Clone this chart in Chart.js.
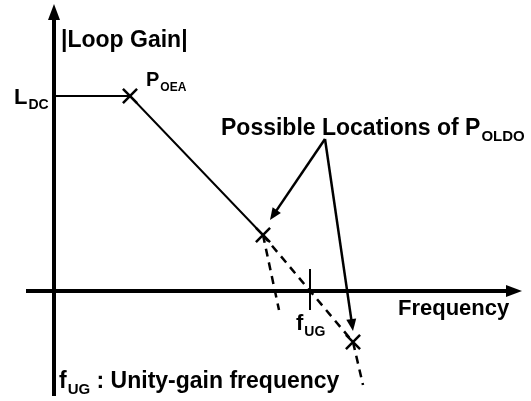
<!DOCTYPE html>
<html>
<head>
<meta charset="utf-8">
<title>Loop Gain</title>
<script src="https://cdn.jsdelivr.net/npm/chart.js@4.4.1/dist/chart.umd.min.js"></script>
<style>
  body { margin: 0; background: #fff; }
  canvas { display: block; }
</style>
</head>
<body>
<canvas id="bode" width="531" height="401"></canvas>
<script>
// asymptotic loop gain (frequency, magnitude), origin at the axes crossing
const gainFreq = [0, 1.52, 4.18];
const gainMag = [3.9, 3.9, 1.12];
// two possible roll-offs after the output pole
const steepFreq = [4.18, 4.5];
const steepMag = [1.12, -0.38];
const slowFreq = [4.18, 5.98, 6.18];
const slowMag = [1.12, -1.02, -1.88];
// pole markers
const poleFreq = [1.52, 4.18, 5.98];
const poleMag = [3.9, 1.12, -1.02];
// unity-gain crossing
const fUG = 5.12;
// callout arrows from the "Possible Locations" label
const calloutFrom = [5.42, 3.04];
const calloutTipFreq = [4.32, 5.98];
const calloutTipMag = [1.42, -0.8];

const FONT = '"Liberation Sans", Arial, sans-serif';

function pts(xs, ys) {
  return xs.map((x, i) => ({ x: x, y: ys[i] }));
}

function lineSet(data, dash, width) {
  return {
    data: data,
    showLine: true,
    borderColor: '#000',
    borderWidth: width,
    borderDash: dash,
    pointRadius: 0,
    fill: false
  };
}

function arrowHead(ctx, x0, y0, x1, y1, len, half) {
  const a = Math.atan2(y1 - y0, x1 - x0);
  ctx.beginPath();
  ctx.moveTo(x1, y1);
  ctx.lineTo(x1 - len * Math.cos(a) + half * Math.sin(a), y1 - len * Math.sin(a) - half * Math.cos(a));
  ctx.lineTo(x1 - len * Math.cos(a) - half * Math.sin(a), y1 - len * Math.sin(a) + half * Math.cos(a));
  ctx.closePath();
  ctx.fill();
}

// text with a subscript, left aligned on baseline y
function subText(ctx, x, y, main, sub, size, subSize, drop) {
  ctx.font = 'bold ' + size + 'px ' + FONT;
  ctx.fillText(main, x, y);
  const w = ctx.measureText(main).width;
  ctx.font = 'bold ' + subSize + 'px ' + FONT;
  ctx.fillText(sub, x + w + 1, y + drop);
  return x + w + 1 + ctx.measureText(sub).width;
}

const diagram = {
  id: 'diagram',
  beforeDatasetsDraw(chart) {
    const ctx = chart.ctx;
    const xs = chart.scales.x, ys = chart.scales.y;
    const ox = xs.getPixelForValue(0), oy = ys.getPixelForValue(0);
    ctx.save();
    ctx.strokeStyle = '#000';
    ctx.fillStyle = '#000';
    ctx.lineWidth = 4;
    // frequency axis
    ctx.beginPath();
    ctx.moveTo(26, oy);
    ctx.lineTo(510, oy);
    ctx.stroke();
    arrowHead(ctx, 26, oy, 522, oy, 16, 6);
    // magnitude axis
    ctx.beginPath();
    ctx.moveTo(ox, 396);
    ctx.lineTo(ox, 16);
    ctx.stroke();
    arrowHead(ctx, ox, 396, ox, 4, 16, 6);
    // fUG tick
    const fx = xs.getPixelForValue(fUG);
    ctx.lineWidth = 2;
    ctx.beginPath();
    ctx.moveTo(fx, oy - 22);
    ctx.lineTo(fx, oy + 19);
    ctx.stroke();
    ctx.restore();
  },
  afterDatasetsDraw(chart) {
    const ctx = chart.ctx;
    const xs = chart.scales.x, ys = chart.scales.y;
    ctx.save();
    ctx.fillStyle = '#000';
    ctx.strokeStyle = '#000';
    ctx.textBaseline = 'alphabetic';
    ctx.textAlign = 'left';

    // callout arrows
    const fx0 = xs.getPixelForValue(calloutFrom[0]);
    const fy0 = ys.getPixelForValue(calloutFrom[1]);
    ctx.lineWidth = 2.5;
    calloutTipFreq.forEach((f, i) => {
      const tx = xs.getPixelForValue(f), ty = ys.getPixelForValue(calloutTipMag[i]);
      const a = Math.atan2(ty - fy0, tx - fx0);
      ctx.beginPath();
      ctx.moveTo(fx0, fy0);
      ctx.lineTo(tx - 8 * Math.cos(a), ty - 8 * Math.sin(a));
      ctx.stroke();
      arrowHead(ctx, fx0, fy0, tx, ty, 12, 5);
    });

    ctx.font = 'bold 23px ' + FONT;
    ctx.fillText('|Loop Gain|', 61, 47);
    subText(ctx, 14, 104, 'L', 'DC', 22, 14, 5);
    subText(ctx, 146, 86, 'P', 'OEA', 20, 12, 5);
    subText(ctx, 221, 135, 'Possible Locations of P', 'OLDO', 23, 15, 6);
    ctx.font = 'bold 22px ' + FONT;
    ctx.fillText('Frequency', 398, 315);
    subText(ctx, 296, 330, 'f', 'UG', 22, 14, 6);
    const end = subText(ctx, 59, 388, 'f', 'UG', 23, 15, 6);
    ctx.font = 'bold 23px ' + FONT;
    ctx.fillText(' : Unity-gain frequency', end, 388);
    ctx.restore();
  }
};

new Chart(document.getElementById('bode'), {
  type: 'scatter',
  data: {
    datasets: [
      lineSet(pts(gainFreq, gainMag), [], 2),
      lineSet(pts(steepFreq, steepMag), [8, 6], 2.5),
      lineSet(pts(slowFreq, slowMag), [8, 6], 2.5),
      {
        data: pts(poleFreq, poleMag),
        showLine: false,
        pointStyle: 'crossRot',
        pointRadius: 10,
        pointBorderWidth: 2.5,
        pointBorderColor: '#000'
      }
    ]
  },
  options: {
    responsive: false,
    animation: false,
    events: [],
    layout: { padding: 0, autoPadding: false },
    plugins: { legend: { display: false }, tooltip: { enabled: false } },
    scales: {
      x: { type: 'linear', display: false, min: -1.08, max: 9.54 },
      y: { type: 'linear', display: false, min: -2.2, max: 5.82 }
    }
  },
  plugins: [diagram]
});
</script>
</body>
</html>
